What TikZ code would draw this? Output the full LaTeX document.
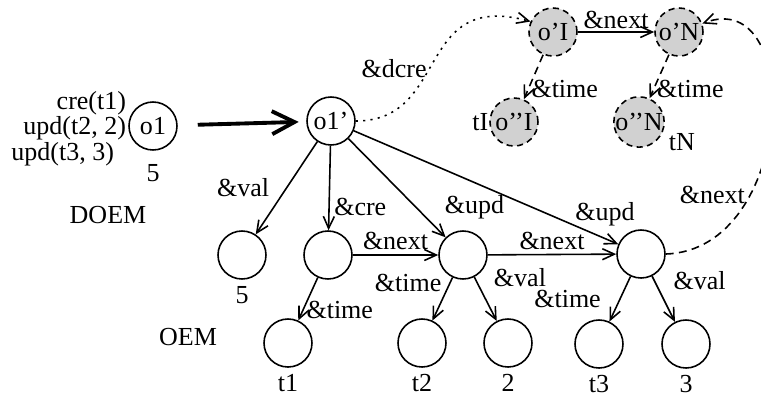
\documentclass[tikz,border=0pt]{standalone}
\usepackage{fontspec}
\setmainfont{Liberation Serif}
\usetikzlibrary{arrows.meta, positioning}

\begin{document}
\begin{tikzpicture}[x=0.02cm, y=-0.02cm, font=\fontsize{14.8pt}{17pt}\selectfont]

\tikzset{vertex/.style = {shape=circle, draw, line width=0.9pt, minimum size=0.96cm, inner sep=0pt}}
\tikzset{ghost/.style = {vertex, fill=black!18, dash pattern=on 3.5pt off 2.5pt}}
\tikzset{edge/.style = {->, line width=0.9pt, > = {Straight Barb[length=2.4mm, width=2.2mm]}}}
\tikzset{bigarrow/.style = {line width=2.2pt, -{Straight Barb[length=4.5mm, width=4.6mm]}, shorten <=0.4cm, shorten >=0.15cm}}
\tikzset{lbl/.style = {inner sep=1.5pt}}
\useasboundingbox (0,0) rectangle (761,397);
% vertices
\node[vertex, label={[label distance=4pt]below:5}] (o1) at (153,126) {o1};
\node[vertex] (o1p) at (331,121) {o1'};
\node[vertex, label=below:5] (v5) at (242,255) {};
\node[vertex] (cre) at (328,255) {};
\node[vertex] (upd1) at (463,255) {};
\node[vertex] (upd2) at (641,254) {};
\node[vertex, label=below:t1] (t1) at (288,343) {};
\node[vertex, label=below:t2] (t2) at (422,343) {};
\node[vertex, label=below:2] (v2) at (508,343) {};
\node[vertex, label=below:t3] (t3) at (599,344) {};
\node[vertex, label=below:3] (v3) at (686,344) {};
\node[ghost] (oI) at (553,32) {o'I};
\node[ghost] (oN) at (679,32) {o'N};
\node[ghost, label={[label distance=-3pt]left:tI}] (ooI) at (514,122) {o'{}'I};
\node[ghost, label={[label distance=-1pt]-12:tN}] (ooN) at (639,122) {o'{}'N};
% texts
\node[lbl, anchor=east] (cretxt) at (129,103) {cre(t1)};
\node[lbl, anchor=east] (updtxt) at (129,128) {upd(t2, 2)};
\node[lbl, anchor=east] (upd3txt) at (117,154) {upd(t3, 3)};
\node (doem) at (108,215) {DOEM};
\node (oem) at (188,337) {OEM};
%edges
\draw[bigarrow] (o1) -- (o1p);
\draw[edge] (o1p) -- (v5) node[lbl, midway, left=8pt] {\&val};
\draw[edge] (o1p) -- (cre) node[lbl, pos=0.72, right=1pt] {\&cre};
\draw[edge] (o1p) -- (upd1) node[lbl, pos=0.85, above right=0pt and 6pt] {\&upd};
\draw[edge] (o1p) -- (upd2) node[lbl, pos=0.95, above=5pt] {\&upd};
\draw[edge] (cre) -- (upd1) node[lbl, midway, above=1pt] {\&next};
\draw[edge] (upd1) -- (upd2) node[lbl, midway, above=1pt] {\&next};
\draw[edge] (cre) -- (t1) node[lbl, pos=0.75, right] {\&time};
\draw[edge] (upd1) -- (t2) node[lbl, pos=0.12, left=3pt] {\&time};
\draw[edge] (upd1) -- (v2) node[lbl, pos=0.02, right=9pt] {\&val};
\draw[edge] (upd2) -- (t3) node[lbl, midway, left=9pt] {\&time};
\draw[edge] (upd2) -- (v3) node[lbl, pos=0.1, right=9pt] {\&val};
\draw[edge] (oI) -- (oN) node[lbl, midway, above] {\&next};
\draw[edge, dash pattern=on 4.5pt off 3pt] (oI) -- (ooI) node[lbl, pos=0.78, right] {\&time};
\draw[edge, dash pattern=on 4.5pt off 3pt] (oN) -- (ooN) node[lbl, pos=0.78, right] {\&time};
\draw[edge, dash pattern=on 1.2pt off 3pt] (o1p.east) .. controls (450,121) and (415,-10) .. (oI.155) node[lbl, pos=0.45, left] {\&dcre};
\draw[edge, dash pattern=on 4.5pt off 3pt] (upd2.east) .. controls (795,250) and (805,-15) .. (oN.20) node[lbl, pos=0.3, left=1pt] {\&next};
\end{tikzpicture}
\end{document}
